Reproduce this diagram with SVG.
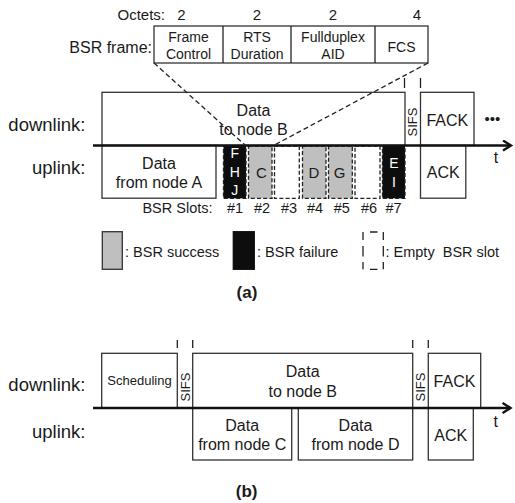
<svg xmlns="http://www.w3.org/2000/svg" width="515" height="503" viewBox="0 0 515 503">
<defs>
<style>
text{font-family:"Liberation Sans",Arial,sans-serif;fill:#1a1a1a}
.box{fill:#fff;stroke:#333;stroke-width:1.3}
.f16{font-size:16px}
.f14{font-size:14px}
.lbl{font-size:18.5px;text-anchor:end}
.m{text-anchor:middle}
.sifs{font-size:13px;text-anchor:middle}
.slot{stroke:#222;stroke-width:1.3;stroke-dasharray:4 2.2}
.gray{fill:#bfbfbf}
.blk{fill:#0d0d0d}
.emp{fill:#fff}
.wt{fill:#fff;font-size:14px;text-anchor:middle}
.axis{stroke:#111;stroke-width:2.4;fill:none}
.dash{stroke:#222;stroke-width:1.3;stroke-dasharray:5 3;fill:none}
.tick{stroke:#222;stroke-width:1.3}
.cap{font-size:17px;font-weight:bold;text-anchor:middle}
</style>
<marker id="arr" markerUnits="userSpaceOnUse" markerWidth="12" markerHeight="14" refX="9" refY="6" orient="auto">
<path d="M1,1 L9,6 L1,11" fill="none" stroke="#111" stroke-width="2.4"/>
</marker>
</defs>
<rect width="515" height="503" fill="#fff"/>

<!-- Part (a) header -->
<g id="octets">
<text x="165" y="20" class="f14" text-anchor="end" style="font-size:15px">Octets:</text>
<text x="181.5" y="20" class="m" style="font-size:15px">2</text>
<text x="257" y="20" class="m" style="font-size:15px">2</text>
<text x="333" y="20" class="m" style="font-size:15px">2</text>
<text x="417" y="20" class="m" style="font-size:15px">4</text>
</g>
<g id="bsr-frame">
<text x="152" y="53.3" class="f16" text-anchor="end">BSR frame:</text>
<rect x="154" y="26" width="274" height="37" class="box"/>
<line x1="223" y1="26" x2="223" y2="63" class="tick"/>
<line x1="291" y1="26" x2="291" y2="63" class="tick"/>
<line x1="375" y1="26" x2="375" y2="63" class="tick"/>
<text x="188.5" y="41.7" class="f14 m">Frame</text>
<text x="188.5" y="59" class="f14 m">Control</text>
<text x="257" y="41.7" class="f14 m">RTS</text>
<text x="257" y="59" class="f14 m">Duration</text>
<text x="333" y="41.7" class="f14 m">Fullduplex</text>
<text x="333" y="59" class="f14 m">AID</text>
<text x="401.5" y="51.5" class="f14 m">FCS</text>
</g>

<text x="85.5" y="130.5" class="lbl">downlink:</text>
<text x="85.5" y="174" class="lbl">uplink:</text>

<g id="a-data-to-b">
<rect x="102" y="92.3" width="303" height="53.2" class="box"/>
<text x="253.5" y="116" class="f16 m">Data</text>
<text x="253.5" y="135" class="f16 m">to node B</text>
</g>
<g id="a-sifs"><text class="sifs" transform="translate(416.5,122) rotate(-90)">SIFS</text></g>
<g id="a-fack">
<rect x="420.5" y="92.3" width="53.5" height="53.2" class="box"/>
<text x="447.3" y="125.5" class="f16 m">FACK</text>
</g>
<text x="492.5" y="124" class="m" style="font-size:15px">•••</text>

<g id="a-data-from-a">
<rect x="102" y="145.5" width="114" height="52.7" class="box"/>
<text x="159" y="169.3" class="f16 m">Data</text>
<text x="159" y="188.3" class="f16 m">from node A</text>
</g>

<g id="slot1"><rect x="223.5" y="146" width="22.5" height="52.3" class="slot blk"/>
<text x="234.7" y="158.3" class="wt">F</text><text x="234.7" y="177" class="wt">H</text><text x="234.7" y="195" class="wt">J</text></g>
<g id="slot2"><rect x="248.5" y="146" width="23.5" height="52.3" class="slot gray"/>
<text x="261.5" y="177.7" class="f16 m" style="font-size:15px">C</text></g>
<g id="slot3"><rect x="274.5" y="146" width="24.8" height="52.3" class="slot emp"/></g>
<g id="slot4"><rect x="302.5" y="146" width="23.5" height="52.3" class="slot gray"/>
<text x="314" y="177.7" class="m" style="font-size:15px">D</text></g>
<g id="slot5"><rect x="328.5" y="146" width="23.8" height="52.3" class="slot gray"/>
<text x="339.5" y="177.7" class="m" style="font-size:15px">G</text></g>
<g id="slot6"><rect x="355" y="146" width="25" height="52.3" class="slot emp"/></g>
<g id="slot7"><rect x="382.5" y="146" width="22.5" height="52.3" class="slot blk"/>
<text x="394" y="168.3" class="wt">E</text><text x="394" y="186.7" class="wt">I</text></g>

<g id="a-ack">
<rect x="420.5" y="145.5" width="45.3" height="52.7" class="box"/>
<text x="443.2" y="178.3" class="f16 m">ACK</text>
</g>
<text x="496" y="163.3" class="f16 m">t</text>

<g id="slot-labels" style="font-size:14.5px">
<text x="212.5" y="213.3" text-anchor="end">BSR Slots:</text>
<text x="235" y="213.3" class="m">#1</text>
<text x="262" y="213.3" class="m">#2</text>
<text x="289" y="213.3" class="m">#3</text>
<text x="315" y="213.3" class="m">#4</text>
<text x="341.7" y="213.3" class="m">#5</text>
<text x="369" y="213.3" class="m">#6</text>
<text x="393.5" y="213.3" class="m">#7</text>
</g>

<g id="legend" style="font-size:14.5px">
<rect x="102.3" y="231.7" width="20" height="37.6" fill="#bfbfbf" stroke="#333" stroke-width="1.3"/>
<text x="125" y="257.3">: BSR success</text>
<rect x="233.3" y="231.7" width="21" height="37.6" fill="#0d0d0d" stroke="#111" stroke-width="1.3"/>
<text x="257" y="257.3">: BSR failure</text>
<path d="M363,232 V240 M363,246 V256.5 M363,262 V269.3 M383.3,232 V240 M383.3,246 V256.5 M383.3,262 V269.3 M370,232 H377.5 M370,269.3 H377.5" stroke="#222" stroke-width="1.3" fill="none"/>
<text x="385.5" y="257.3" xml:space="preserve">: Empty  BSR slot</text>
</g>
<text x="247" y="298" class="cap">(a)</text>

<!-- Part (b) -->
<text x="85.5" y="390.5" class="lbl">downlink:</text>
<text x="85.5" y="437.5" class="lbl">uplink:</text>

<g id="b-scheduling">
<rect x="101.7" y="353.3" width="75.6" height="54.7" class="box"/>
<text x="139.5" y="385.3" class="m" style="font-size:13px">Scheduling</text>
</g>
<g id="b-sifs1"><text class="sifs" transform="translate(189.5,387) rotate(-90)">SIFS</text></g>
<g id="b-data-to-b">
<rect x="192.7" y="353.3" width="220" height="54.7" class="box"/>
<text x="302.7" y="377.3" class="f16 m">Data</text>
<text x="302.7" y="396.7" class="f16 m">to node B</text>
</g>
<g id="b-sifs2"><text class="sifs" transform="translate(424.5,387) rotate(-90)">SIFS</text></g>
<g id="b-fack">
<rect x="428.3" y="353.3" width="52.4" height="54.7" class="box"/>
<text x="454.5" y="387.3" class="f16 m">FACK</text>
</g>
<g id="b-data-from-c">
<rect x="192.7" y="408" width="99" height="52" class="box"/>
<text x="242.2" y="431" class="f16 m">Data</text>
<text x="242.2" y="450" class="f16 m">from node C</text>
</g>
<g id="b-data-from-d">
<rect x="298.3" y="408" width="114.4" height="52" class="box"/>
<text x="355.5" y="431" class="f16 m">Data</text>
<text x="355.5" y="450" class="f16 m">from node D</text>
</g>
<g id="b-ack">
<rect x="428.3" y="408" width="45" height="52" class="box"/>
<text x="450.8" y="440.7" class="f16 m">ACK</text>
</g>
<text x="495.7" y="426.7" class="f16 m">t</text>
<text x="246.7" y="496.5" class="cap">(b)</text>

<g id="connectors">
<line x1="93" y1="145.5" x2="511" y2="145.5" class="axis" marker-end="url(#arr)"/>
<line x1="93" y1="408" x2="510.5" y2="408" class="axis" marker-end="url(#arr)"/>
<line x1="154" y1="63" x2="245.5" y2="145.5" class="dash"/>
<line x1="428" y1="63" x2="273.5" y2="145.5" class="dash"/>
<line x1="404.5" y1="78" x2="404.5" y2="88" class="tick"/>
<line x1="420.5" y1="78" x2="420.5" y2="88" class="tick"/>
<line x1="177.3" y1="340" x2="177.3" y2="348" class="tick"/>
<line x1="192.7" y1="340" x2="192.7" y2="348" class="tick"/>
<line x1="412.7" y1="340" x2="412.7" y2="348" class="tick"/>
<line x1="428.3" y1="340" x2="428.3" y2="348" class="tick"/>
</g>
</svg>
